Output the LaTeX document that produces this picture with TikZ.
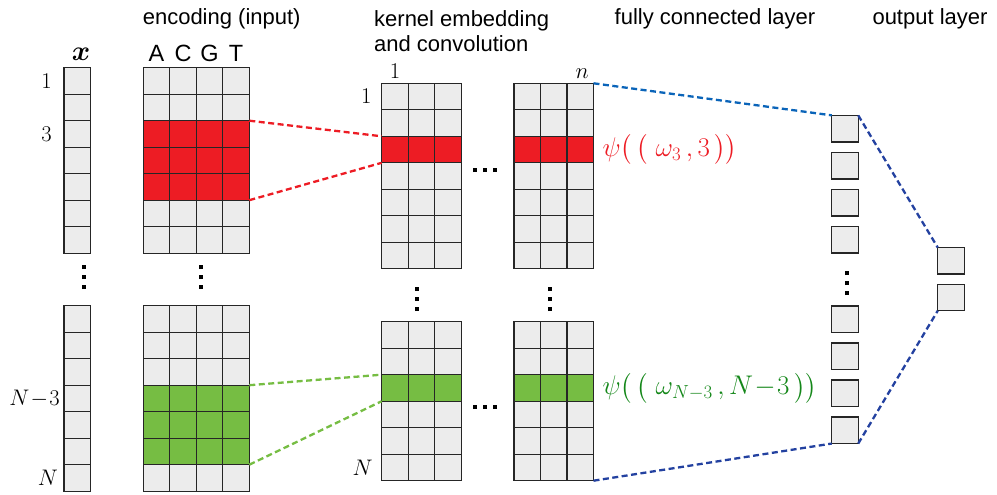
\documentclass[tikz,border=0pt]{standalone}
\usepackage{fix-cm}
\usepackage{amsmath}
\usepackage{fontspec}
\setsansfont{Liberation Sans}
\usepackage{tikz}
\usetikzlibrary{positioning}
\definecolor{cellgray}{RGB}{236,236,236}
\definecolor{hotred}{RGB}{237,28,36}
\definecolor{leafgreen}{RGB}{118,189,67}
\definecolor{psigreen}{RGB}{20,135,25}
\definecolor{fcblue}{RGB}{10,100,185}
\definecolor{navyblue}{RGB}{35,65,160}
\newcommand{\sqdot}{\rule{4pt}{4pt}}
\newcommand{\sqvdots}{\sqdot\\\sqdot\\\sqdot}
\newcommand{\sqhdots}{\sqdot\hspace{6pt}\sqdot\hspace{6pt}\sqdot}

\begin{document}
\begin{tikzpicture}[x=1pt,y=-1pt,
  cell/.style={draw=black!85,fill=cellgray,line width=1.3pt,minimum size=26.5pt,
               inner sep=0pt,outer sep=0pt},
  head/.style={font=\sffamily\fontsize{22}{24.5}\selectfont,inner sep=0pt},
  lab/.style={font=\fontsize{22.5}{26}\selectfont,inner sep=0pt},
  psi/.style={font=\fontsize{27}{30}\selectfont,inner sep=0pt,anchor=west},
  dotsv/.style={font=\fontsize{10}{10}\selectfont,align=center,inner sep=0pt},
  link/.style={line width=2.3pt,dash pattern=on 6pt off 3.5pt}]
  \useasboundingbox (0,0) rectangle (997,495);

  % headings
  \node[head] (hin) at (221.7,19) {encoding (input)};
  \node[head,align=left,anchor=west] (hker) at (374,31) {kernel embedding\\and convolution};
  \node[head] (hfc) at (715,19) {fully connected layer};
  \node[head] (hout) at (930,19) {output layer};

  % sequence x
  \foreach \r in {1,...,7} {
    \node[cell] (xa-\r) at (77.2,{54.45+26.5*\r}) {};
    \node[cell] (xb-\r) at (77.2,{292.45+26.5*\r}) {};
  }
  \node[lab,font=\fontsize{28}{30}\selectfont,above=7pt of xa-1,xshift=4pt] (xlab) {$\boldsymbol{x}$};
  \node[lab,left=12pt of xa-1] (r1) {$1$};
  \node[lab,left=12pt of xa-3] (r3) {$3$};
  \node[lab,left=4pt of xb-4] (rn3) {$N\!-\!3$};
  \node[lab,left=6pt of xb-7] (rn) {$N$};

  % one-hot encoding
  \foreach \r/\fc in {1/cellgray,2/cellgray,3/hotred,4/hotred,5/hotred,6/cellgray,7/cellgray}
    \foreach \c in {1,...,4}
      \node[cell,fill=\fc] (ea-\c-\r) at ({130.05+26.5*\c},{54.45+26.5*\r}) {};
  \foreach \r/\fc in {1/cellgray,2/cellgray,3/cellgray,4/leafgreen,5/leafgreen,6/leafgreen,7/cellgray}
    \foreach \c in {1,...,4}
      \node[cell,fill=\fc] (eb-\c-\r) at ({130.05+26.5*\c},{292.45+26.5*\r}) {};
  \foreach \c/\b in {1/A,2/C,3/G,4/T}
    \node[head,font=\sffamily\fontsize{23.5}{26}\selectfont,above=6pt of ea-\c-1] (base\c) {\b};

  % kernel embedding
  \foreach \r/\fc in {1/cellgray,2/cellgray,3/hotred,4/cellgray,5/cellgray,6/cellgray,7/cellgray}
    \foreach \c in {1,...,3} {
      \node[cell,fill=\fc] (ka-\c-\r) at ({368.45+26.5*\c},{70.05+26.5*\r}) {};
      \node[cell,fill=\fc] (kb-\c-\r) at ({500.75+26.5*\c},{70.05+26.5*\r}) {};
    }
  \foreach \r/\fc in {1/cellgray,2/cellgray,3/leafgreen,4/cellgray,5/cellgray,6/cellgray}
    \foreach \c in {1,...,3} {
      \node[cell,fill=\fc] (kc-\c-\r) at ({368.45+26.5*\c},{308.45+26.5*\r}) {};
      \node[cell,fill=\fc] (kd-\c-\r) at ({500.75+26.5*\c},{308.45+26.5*\r}) {};
    }
  \node[lab,above=5pt of ka-1-1] (c1) {$1$};
  \node[lab,above=5pt of kb-3-1,xshift=2pt] (cn) {$n$};
  \node[lab,left=10pt of ka-1-1] (k1) {$1$};
  \node[lab,left=9pt of kc-1-6] (kn) {$N$};

  \node[psi,text=hotred,right=9pt of kb-3-3] (psi3)
    {$\psi\big(\,\big(\;\omega_3\,,3\,\big)\big)$};
  \node[psi,text=psigreen,right=9pt of kd-3-3] (psin)
    {$\psi\big(\,\big(\;\omega_{N-3}\,,N\!-\!3\,\big)\big)$};

  % fully connected and output layer
  \foreach \i/\y in {1/128.6,2/165.6,3/202.6,4/239.6,5/319.3,6/356.3,7/393.3,8/430.3}
    \node[cell] (fc\i) at (845,\y) {};
  \node[cell] (out1) at (951,260.8) {};
  \node[cell] (out2) at (951,297.5) {};

  % dots
  \node[dotsv] (xdots) at (84,277) {\sqvdots};
  \node[dotsv] (edots) at (200.5,277) {\sqvdots};
  \node[dotsv] (kdots1) at (417,299) {\sqvdots};
  \node[dotsv] (kdots2) at (550,299) {\sqvdots};
  \node[dotsv] (fcdots) at (846.5,283) {\sqvdots};
  \node[dotsv] (hdots1) at (485,170) {\sqhdots};
  \node[dotsv] (hdots2) at (485,407) {\sqhdots};

  % connections
  \draw[link,hotred] (ea-4-3.north east) -- (ka-1-3.north west);
  \draw[link,hotred] (ea-4-5.south east) -- (ka-1-3.south west);
  \draw[link,leafgreen] (eb-4-4.north east) -- (kc-1-3.north west);
  \draw[link,leafgreen] (eb-4-6.south east) -- (kc-1-3.south west);
  \draw[link,fcblue] (kb-3-1.north east) -- (fc1.north west);
  \draw[link,navyblue] (kd-3-6.south east) -- (fc8.south west);
  \draw[link,navyblue] (fc1.north east) -- (out1.north west);
  \draw[link,navyblue] (fc8.south east) -- (out2.south west);
\end{tikzpicture}
\end{document}
